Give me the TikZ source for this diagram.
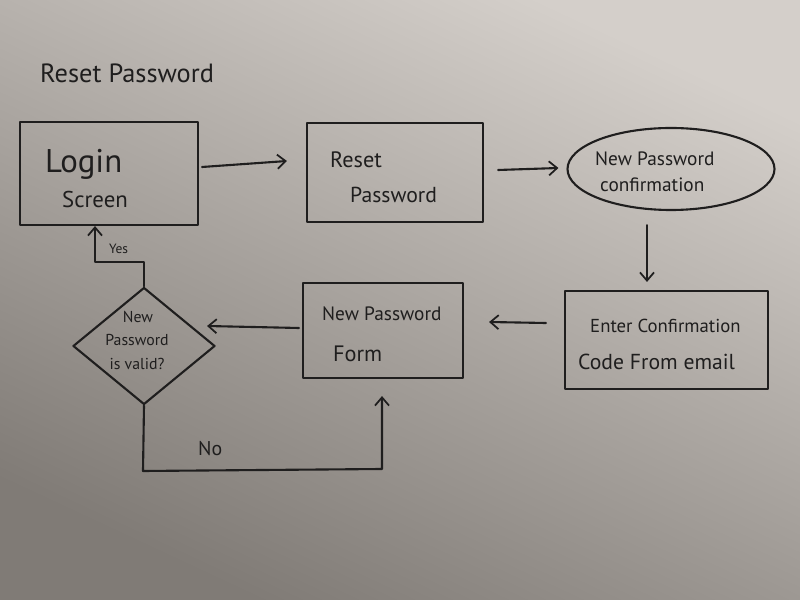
\documentclass[tikz,border=0pt]{standalone}
\usepackage{fontspec}
\setmainfont{PT Sans}
\usetikzlibrary{arrows.meta,shapes.geometric}
\definecolor{paperL}{HTML}{D4CFCA}
\definecolor{paperM}{HTML}{B3AEA9}
\definecolor{paperD}{HTML}{807B76}
\definecolor{ink}{HTML}{1F1E1E}
\newcommand{\fs}[1]{\fontsize{#1}{#1}\selectfont}
\tikzset{
  pen/.style={draw=ink, line width=1.8pt, line cap=round, line join=round},
  box/.style={pen, rectangle, inner sep=0pt},
  conn/.style={pen, -{Straight Barb[length=7pt,width=12pt,line width=1.5pt]}},
  txt/.style={text=ink, inner sep=0pt, anchor=base west},
}
\begin{document}
\begin{tikzpicture}[x=0.03cm,y=-0.03cm]
\shade[shading=axis, top color=paperL, middle color=paperM, bottom color=paperD, shading angle=-25] (0,0) rectangle (800,600);
\useasboundingbox (0,0) rectangle (800,600);

% title
\node[txt] (title) at (40,83) {\fs{22.5}Reset Password};

% Login screen
\node[box, minimum width=178*0.03cm, minimum height=103*0.03cm] (login) at (109,173.5) {};
\node[txt] (loginA) at (45,173) {\fs{28}Login};
\node[txt] (loginB) at (62,208) {\fs{19.5}Screen};

% Reset password
\node[box, minimum width=176*0.03cm, minimum height=99*0.03cm] (reset) at (395,172.5) {};
\node[txt] (resetA) at (330,168) {\fs{19}Reset};
\node[txt] (resetB) at (350,203) {\fs{18.5}Password};

% New password confirmation
\node[pen, ellipse, minimum width=207*0.03cm, minimum height=82*0.03cm, inner sep=0pt] (conf) at (671,169) {};
\node[txt] (confA) at (595,166) {\fs{16.5}New Password};
\node[txt] (confB) at (600,192) {\fs{16.5}confirmation};

% Enter confirmation code
\node[box, minimum width=203*0.03cm, minimum height=98*0.03cm] (enter) at (666.5,340) {};
\node[txt] (enterA) at (590,333) {\fs{16}Enter Confirmation};
\node[txt] (enterB) at (578,370) {\fs{18.5}Code From email};

% New password form
\node[box, minimum width=160*0.03cm, minimum height=95*0.03cm] (form) at (383,330.5) {};
\node[txt] (formA) at (322,321) {\fs{16.5}New Password};
\node[txt] (formB) at (333,362) {\fs{19}Form};

% decision
\node[pen, diamond, minimum width=142*0.03cm, minimum height=117*0.03cm, inner sep=0pt] (valid) at (144,346) {};
\node[txt, anchor=base] (validA) at (138,323) {\fs{13.5}New};
\node[txt, anchor=base] (validB) at (137,346) {\fs{13.5}Password};
\node[txt, anchor=base] (validC) at (137,370) {\fs{13.5}is valid?};

% connectors
\draw[conn] ([xshift=3*0.03cm]login.east |- 0,167) -- ([xshift=-19*0.03cm]reset.west |- 0,161);
\draw[conn] ([xshift=14*0.03cm]reset.east |- 0,170) -- ([xshift=-8*0.03cm]conf.west |- 0,168);
\draw[conn] ([yshift=-14*0.03cm]conf.south -| 647,0) -- ([yshift=8*0.03cm]enter.north -| 647,0);
\draw[conn] ([xshift=-18*0.03cm]enter.west |- 0,323) -- ([xshift=25*0.03cm]form.east |- 0,322);
\draw[conn] ([xshift=-3*0.03cm]form.west |- 0,328) -- ([xshift=-9*0.03cm]valid.east |- 0,326);

\coordinate (yes1) at (144,262);
\coordinate (yes2) at (95,262);
\draw[conn] (valid.north) -- (yes1) -- (yes2) -- (login.south -| yes2);
\node[txt] (yes) at (109,254) {\fs{11.5}Yes};

\coordinate (no1) at (143,471);
\coordinate (no2) at (382,469);
\draw[conn] (valid.south) -- (no1) -- (no2) -- ([yshift=-17*0.03cm]form.south -| no2);
\node[txt] (no) at (198,456) {\fs{17}No};
\end{tikzpicture}
\end{document}
